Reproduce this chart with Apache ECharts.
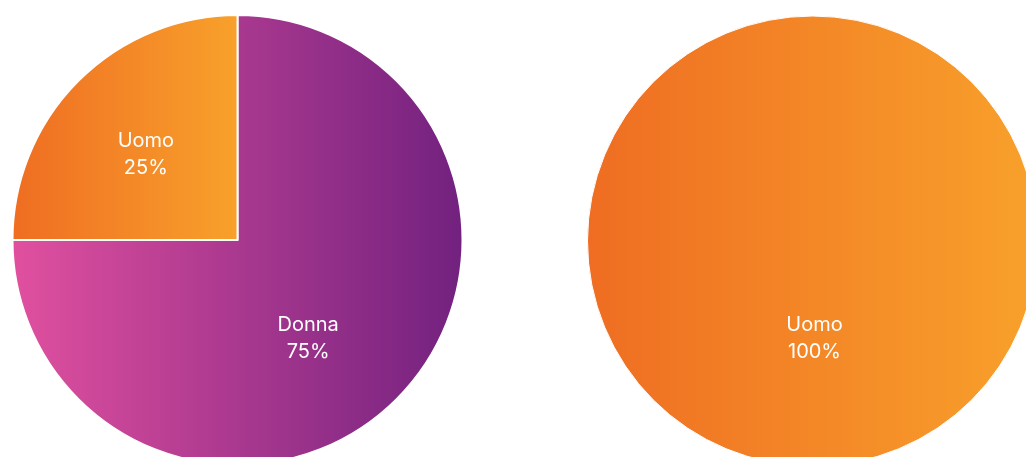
<!DOCTYPE html>
<html>
<head>
<meta charset="utf-8">
<script src="https://cdn.jsdelivr.net/npm/echarts@6/dist/echarts.min.js"></script>
<style>
html,body{margin:0;padding:0;background:#fff;}
#chart{width:1026px;height:457px;}
</style>
</head>
<body>
<div id="chart"></div>
<script>
// Data
const categoriesLeft = ['Donna', 'Uomo'];
const valuesLeft = [75, 25];
const categoriesRight = ['Uomo'];
const valuesRight = [100];

const gradients = {
  'Uomo': ['#EF6D22', '#F8A12B'],
  'Donna': ['#E1509F', '#72217F']
};

function grad(name) {
  const c = gradients[name];
  return new echarts.graphic.LinearGradient(0, 0, 1, 0, [
    { offset: 0, color: c[0] },
    { offset: 1, color: c[1] }
  ]);
}

function buildData(cats, vals) {
  return cats.map((c, i) => ({
    name: c,
    value: vals[i],
    itemStyle: { color: grad(c) }
  }));
}

const labelStyle = {
  show: true,
  position: 'inside',
  formatter: '{b}\n{d}%',
  color: '#ffffff',
  fontFamily: 'Inter',
  fontSize: 20,
  lineHeight: 27,
  align: 'center'
};

// label nudges (pixel offsets from the default inside position)
const leftNudge = { 'Donna': [-11, 17], 'Uomo': [-10, -4] };
const rightNudge = { 'Uomo': [2, -18] };

const chart = echarts.init(document.getElementById('chart'), null, { renderer: 'canvas' });
chart.setOption({
  animation: false,
  backgroundColor: '#ffffff',
  series: [
    {
      type: 'pie',
      center: [237.5, 240],
      radius: [0, 225],
      startAngle: 90,
      clockwise: true,
      avoidLabelOverlap: false,
      itemStyle: { borderColor: '#ffffff', borderWidth: 2 },
      label: labelStyle,
      labelLine: { show: false },
      labelLayout: function (p) {
        const n = categoriesLeft[p.dataIndex];
        const o = leftNudge[n] || [0, 0];
        return { dx: o[0], dy: o[1] };
      },
      emphasis: { disabled: true },
      data: buildData(categoriesLeft, valuesLeft)
    },
    {
      type: 'pie',
      center: [812.5, 241],
      radius: [0, 225],
      startAngle: 90,
      clockwise: true,
      avoidLabelOverlap: false,
      itemStyle: { borderColor: '#ffffff', borderWidth: 1 },
      label: labelStyle,
      labelLine: { show: false },
      labelLayout: function (p) {
        const n = categoriesRight[p.dataIndex];
        const o = rightNudge[n] || [0, 0];
        return { dx: o[0], dy: o[1] };
      },
      emphasis: { disabled: true },
      data: buildData(categoriesRight, valuesRight)
    }
  ]
});
</script>
</body>
</html>
